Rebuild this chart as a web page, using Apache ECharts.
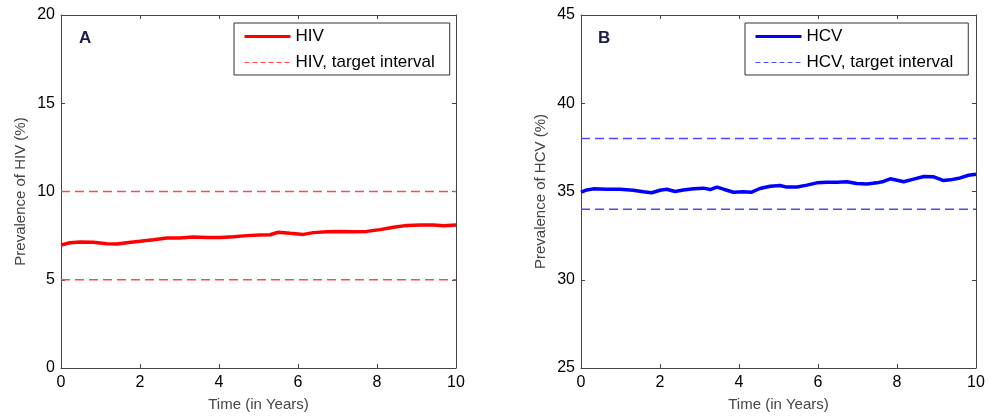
<!DOCTYPE html>
<html>
<head>
<meta charset="utf-8">
<script src="https://cdn.jsdelivr.net/npm/echarts@6/dist/echarts.min.js"></script>
<style>
  html,body{margin:0;padding:0;background:#fff;}
  #chart{width:990px;height:417px;}
</style>
</head>
<body>
<div id="chart"></div>
<script>
// HIV prevalence over time (panel A)
let hivTime=[0,0.23,0.48,0.82,1.16,1.41,1.66,2.0,2.34,2.68,3.0,3.35,3.69,4.03,4.37,4.7,5.04,5.29,5.5,5.8,6.14,6.39,6.73,7.07,7.4,7.74,8.08,8.42,8.76,9.1,9.43,9.69,10]
let hivValues=[6.97,7.10,7.14,7.12,7.04,7.02,7.10,7.18,7.27,7.37,7.37,7.42,7.40,7.40,7.44,7.50,7.53,7.55,7.69,7.63,7.57,7.67,7.72,7.74,7.72,7.74,7.84,7.97,8.08,8.10,8.10,8.06,8.10]
let hivTarget=[5,10] //target interval bounds

// HCV prevalence over time (panel B)
let hcvTime=[0,0.15,0.31,0.65,0.99,1.32,1.58,1.79,2.0,2.17,2.38,2.59,2.85,3.1,3.27,3.44,3.61,3.86,4.11,4.32,4.53,4.79,5.04,5.21,5.47,5.72,5.97,6.22,6.48,6.73,6.98,7.24,7.49,7.66,7.83,8.0,8.17,8.42,8.68,8.93,9.18,9.35,9.6,9.81,10]
let hcvValues=[34.96,35.09,35.15,35.13,35.13,35.07,34.98,34.93,35.07,35.13,35.00,35.09,35.15,35.19,35.11,35.25,35.13,34.96,34.98,34.96,35.17,35.30,35.34,35.25,35.26,35.36,35.49,35.53,35.53,35.55,35.45,35.43,35.49,35.57,35.72,35.64,35.55,35.70,35.85,35.83,35.62,35.66,35.77,35.92,35.98]
let hcvTarget=[34,38]

let timeRange=[0,10]

const font='"Liberation Sans", Arial, sans-serif'
const axisColor='#444'

let pairs=(xs,ys)=>xs.map((x,i)=>[x,ys[i]])
// both bounds in one series, broken by an empty point
let bounds=(b)=>[[timeRange[0],b[1]],[timeRange[1],b[1]],[timeRange[1],'-'],[timeRange[0],b[0]],[timeRange[1],b[0]]]

// one x axis (bottom or top) for a grid
let xAxisFor=(gridIndex,position)=>({
  type:'value',gridIndex,position,
  min:timeRange[0],max:timeRange[1],interval:2,
  name:position==='bottom'?'Time (in Years)':'',
  nameLocation:'middle',nameGap:29,
  nameTextStyle:{fontFamily:font,fontSize:15,color:'#444'},
  axisLine:{show:true,onZero:false,lineStyle:{color:axisColor,width:1}},
  axisTick:{show:true,inside:true,length:4,lineStyle:{color:axisColor}},
  axisLabel:{show:position==='bottom',margin:7,fontFamily:font,fontSize:16,color:'#000'},
  splitLine:{show:false}
})
let yAxisFor=(gridIndex,position,min,max,name)=>({
  type:'value',gridIndex,position,
  min,max,interval:5,
  name:position==='left'?name:'',
  nameLocation:'middle',nameGap:33,
  nameTextStyle:{fontFamily:font,fontSize:15,color:'#444'},
  axisLine:{show:true,onZero:false,lineStyle:{color:axisColor,width:1}},
  axisTick:{show:true,inside:true,length:4,lineStyle:{color:axisColor}},
  axisLabel:{show:position==='left',margin:6,fontFamily:font,fontSize:16,color:'#000'},
  splitLine:{show:false}
})
let legendFor=(left,names)=>({
  orient:'vertical',left,top:23,
  data:[{name:names[0],lineStyle:{width:3}},{name:names[1],lineStyle:{width:1,type:[5,3]}}],
  backgroundColor:'#fff',
  borderColor:'#333',borderWidth:1,borderRadius:0,
  padding:[5,15,4,9],
  itemGap:9,itemWidth:46,itemHeight:16,
  itemStyle:{opacity:0,borderWidth:0}, //line only, no marker
  selectedMode:false,
  textStyle:{fontFamily:font,fontSize:17,lineHeight:16,color:'#000'}
})

let chartInstance=echarts.init(document.getElementById('chart'),null,{renderer:'canvas'})
let option={
  animation:false,
  grid:[
    {left:61,right:534,top:15,bottom:49},
    {left:581,right:14,top:15,bottom:49}
  ],
  xAxis:[xAxisFor(0,'bottom'),xAxisFor(0,'top'),xAxisFor(1,'bottom'),xAxisFor(1,'top')],
  yAxis:[
    yAxisFor(0,'left',0,20,'Prevalence of HIV (%)'),yAxisFor(0,'right',0,20),
    yAxisFor(1,'left',25,45,'Prevalence of HCV (%)'),yAxisFor(1,'right',25,45)
  ],
  legend:[
    legendFor(234,['HIV','HIV, target interval']),
    legendFor(745,['HCV','HCV, target interval'])
  ],
  graphic:[
    {type:'text',left:79,top:30,style:{text:'A',font:'bold 17px '+font,fill:'#1b1b4d'}},
    {type:'text',left:598,top:30,style:{text:'B',font:'bold 17px '+font,fill:'#1b1b4d'}}
  ],
  series:[
    {name:'HIV, target interval',type:'line',xAxisIndex:0,yAxisIndex:0,data:bounds(hivTarget),
      symbol:'none',connectNulls:false,lineStyle:{color:'#ff4a4a',width:1.5,type:[9,5]},itemStyle:{color:'#ff4a4a'}},
    {name:'HIV',type:'line',xAxisIndex:0,yAxisIndex:0,data:pairs(hivTime,hivValues),
      symbol:'none',lineStyle:{color:'#ff0000',width:3.5},itemStyle:{color:'#ff0000'}},
    {name:'HCV, target interval',type:'line',xAxisIndex:2,yAxisIndex:2,data:bounds(hcvTarget),
      symbol:'none',connectNulls:false,lineStyle:{color:'#4a4aff',width:1.5,type:[9,5]},itemStyle:{color:'#4a4aff'}},
    {name:'HCV',type:'line',xAxisIndex:2,yAxisIndex:2,data:pairs(hcvTime,hcvValues),
      symbol:'none',lineStyle:{color:'#0000ff',width:3.5},itemStyle:{color:'#0000ff'}}
  ]
}
chartInstance.setOption(option)
</script>
</body>
</html>
